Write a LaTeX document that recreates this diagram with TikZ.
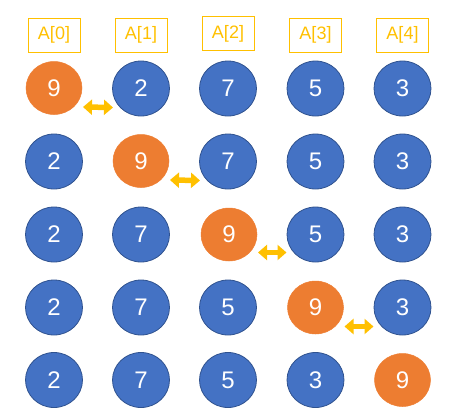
\documentclass[tikz,border=0pt]{standalone}
\usepackage{fontspec}
\setmainfont{Liberation Sans}
\usetikzlibrary{shapes.geometric,arrows.meta}
\definecolor{cblue}{HTML}{4472C4}
\definecolor{cblueline}{HTML}{2F528F}
\definecolor{corange}{HTML}{ED7D31}
\definecolor{cgold}{HTML}{FFC000}
\tikzset{
  bluenode/.style={ellipse, fill=cblue, draw=cblueline, line width=0.8pt, minimum width=57pt, minimum height=55pt, inner sep=0pt, text=white, font=\fontsize{24}{28}\selectfont},
  orangenode/.style={ellipse, fill=corange, draw=corange, line width=0.5pt, minimum width=56pt, minimum height=53pt, inner sep=0pt, text=white, font=\fontsize{24}{28}\selectfont},
  labelbox/.style={rectangle, draw=cgold, line width=1pt, text=cgold, minimum width=52pt, minimum height=34pt, inner sep=0pt, font=\fontsize{18}{22}\selectfont},
  swaparrow/.style={cgold, line width=5.5pt, {Triangle[length=9pt,width=15pt]}-{Triangle[length=9pt,width=15pt]}}
}
\begin{document}
\begin{tikzpicture}[x=1pt,y=-1pt]
\useasboundingbox (0,0) rectangle (453,418);
% labels
\node[labelbox] (l0) at (54,35) {A[0]};
\node[labelbox] (l1) at (141,35) {A[1]};
\node[labelbox] (l2) at (228,33.5) {A[2]};
\node[labelbox] (l3) at (315.5,35) {A[3]};
\node[labelbox] (l4) at (402.5,35) {A[4]};
% row 0
\node[orangenode] (r0c0) at (54,88) {9};
\node[bluenode] (r0c1) at (141,88.5) {2};
\node[bluenode] (r0c2) at (228,88.5) {7};
\node[bluenode] (r0c3) at (315.5,88.5) {5};
\node[bluenode] (r0c4) at (402.5,88.5) {3};
% row 1
\node[bluenode] (r1c0) at (54,161.5) {2};
\node[orangenode] (r1c1) at (141,161) {9};
\node[bluenode] (r1c2) at (228,161.5) {7};
\node[bluenode] (r1c3) at (315.5,161.5) {5};
\node[bluenode] (r1c4) at (402.5,161.5) {3};
% row 2
\node[bluenode] (r2c0) at (54,234.5) {2};
\node[bluenode] (r2c1) at (141,234.5) {7};
\node[orangenode] (r2c2) at (229,234.5) {9};
\node[bluenode] (r2c3) at (315.5,234.5) {5};
\node[bluenode] (r2c4) at (402.5,234.5) {3};
% row 3
\node[bluenode] (r3c0) at (54,307.5) {2};
\node[bluenode] (r3c1) at (141,307.5) {7};
\node[bluenode] (r3c2) at (228,307.5) {5};
\node[orangenode] (r3c3) at (315.5,307.5) {9};
\node[bluenode] (r3c4) at (402.5,307.5) {3};
% row 4
\node[bluenode] (r4c0) at (54,380) {2};
\node[bluenode] (r4c1) at (141,380) {7};
\node[bluenode] (r4c2) at (228,380) {5};
\node[bluenode] (r4c3) at (315.5,380) {3};
\node[orangenode] (r4c4) at (402.5,380) {9};
% swap arrows
\draw[swaparrow] ([shift={(29,19)}]r0c0.center) -- ([shift={(-28,19)}]r0c1.center);
\draw[swaparrow] ([shift={(29,19)}]r1c1.center) -- ([shift={(-28,19)}]r1c2.center);
\draw[swaparrow] ([shift={(29,18)}]r2c2.center) -- ([shift={(-29,18)}]r2c3.center);
\draw[swaparrow] ([shift={(29,19)}]r3c3.center) -- ([shift={(-29,19)}]r3c4.center);
\end{tikzpicture}
\end{document}
